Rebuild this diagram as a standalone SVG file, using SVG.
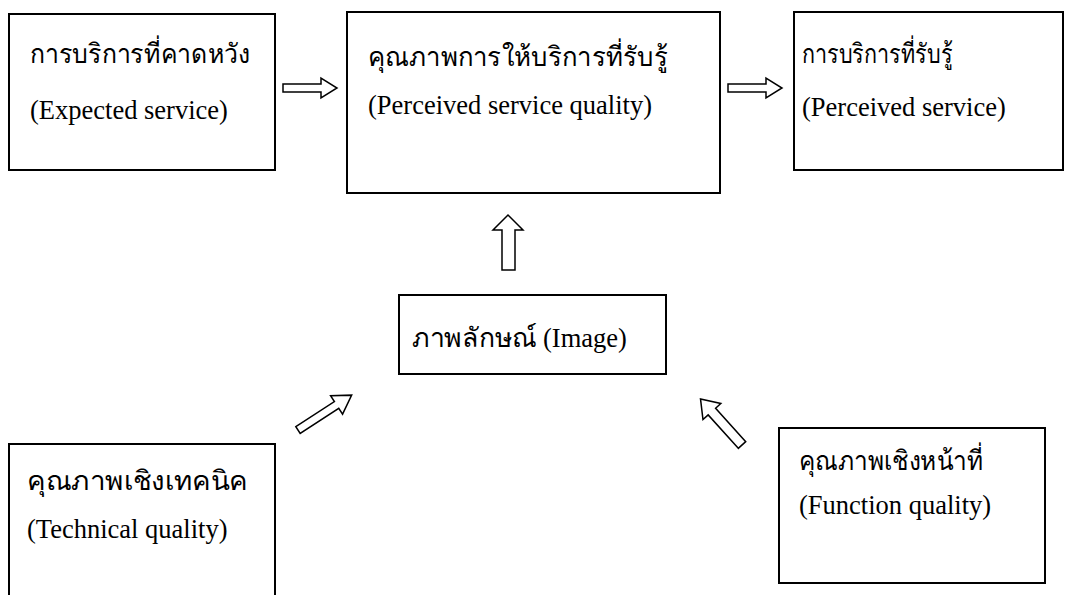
<svg xmlns="http://www.w3.org/2000/svg" width="1071" height="595" viewBox="0 0 1071 595">
<style>
.box{fill:#fff;stroke:#000;stroke-width:2}
.arr{fill:#fff;stroke:#000;stroke-width:1.5;stroke-linejoin:miter}
.th{font-family:"Liberation Serif","DejaVu Serif",serif;font-size:27px;fill:#000}
.en{font-family:"Liberation Serif",serif;font-size:26.5px;fill:#000}
</style>
<rect width="1071" height="595" fill="#fff"/>
<g id="connectors">
<path class="arr" d="M283,84 L321,84 L321,78 L337,88 L321,98 L321,92 L283,92 Z"/>
<path class="arr" d="M728,84 L766,84 L766,78 L782,88 L766,98 L766,92 L728,92 Z"/>
<path class="arr" d="M502,270 L502,230 L493,230 L508,215 L523,230 L515,230 L515,270 Z"/>
<g transform="translate(298,430) rotate(-33)"><path class="arr" d="M0,-4 L46,-4 L46,-11 L64,0 L46,11 L46,4 L0,4 Z"/></g>
<g transform="translate(742,445) rotate(-132)"><path class="arr" d="M0,-5 L45,-5 L45,-12 L62,0 L45,12 L45,5 L0,5 Z"/></g>
</g>
<g id="expected">
<rect class="box" x="9" y="14" width="266" height="156"/>
<text class="th" x="30" y="63" textLength="220" lengthAdjust="spacingAndGlyphs">การบริการที่คาดหวัง</text>
<text class="en" x="30" y="119">(Expected service)</text>
</g>
<g id="perceived-quality">
<rect class="box" x="347" y="12" width="373" height="181"/>
<text class="th" x="368" y="66" textLength="300" lengthAdjust="spacingAndGlyphs">คุณภาพการให้บริการที่รับรู้</text>
<text class="en" x="368" y="114">(Perceived service quality)</text>
</g>
<g id="perceived-service">
<rect class="box" x="794" y="12" width="269" height="158"/>
<text class="th" x="802" y="63" textLength="151" lengthAdjust="spacingAndGlyphs">การบริการที่รับรู้</text>
<text class="en" x="802" y="116">(Perceived service)</text>
</g>
<g id="image">
<rect class="box" x="399" y="295" width="267" height="79"/>
<text class="th" x="412" y="347" textLength="125" lengthAdjust="spacingAndGlyphs">ภาพลักษณ์</text>
<text class="en" x="543" y="347">(Image)</text>
</g>
<g id="technical">
<rect class="box" x="9" y="444" width="266" height="160"/>
<text class="th" x="27" y="490" textLength="221" lengthAdjust="spacingAndGlyphs">คุณภาพเชิงเทคนิค</text>
<text class="en" x="27" y="538">(Technical quality)</text>
</g>
<g id="function">
<rect class="box" x="779" y="428" width="266" height="155"/>
<text class="th" x="799" y="470" textLength="184" lengthAdjust="spacingAndGlyphs">คุณภาพเชิงหน้าที่</text>
<text class="en" x="799" y="514">(Function quality)</text>
</g>
</svg>
